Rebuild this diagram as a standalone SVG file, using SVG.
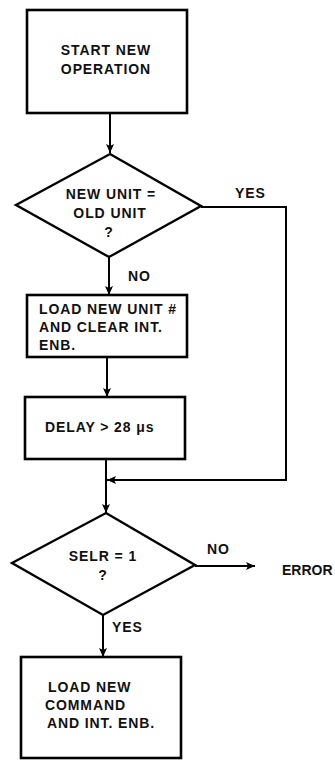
<svg xmlns="http://www.w3.org/2000/svg" width="335" height="760" viewBox="0 0 335 760">
<style>
.box{fill:#fff;stroke:#000;stroke-width:2.6}
.dia{fill:#fff;stroke:#000;stroke-width:2.4;stroke-linejoin:miter}
.ln{fill:none;stroke:#000;stroke-width:2}
text{font-family:"Liberation Sans",Arial,sans-serif;font-weight:bold;font-size:14px;letter-spacing:0.9px;fill:#111}
.c{text-anchor:middle}
</style>
<defs>
<marker id="ah" markerUnits="userSpaceOnUse" markerWidth="12" markerHeight="12" viewBox="-1 -6 11 12" refX="9" refY="0" orient="auto">
<path d="M0,-4 L9,0 L0,4 L2,0 z" fill="#000"/>
</marker>
</defs>
<rect width="335" height="760" fill="#fff"/>
<g id="connectors">
<path class="ln" d="M110,113 V153" marker-end="url(#ah)"/>
<path class="ln" d="M109,257 V295" marker-end="url(#ah)"/>
<path class="ln" d="M201,207 H286 V480 H107" marker-end="url(#ah)"/>
<path class="ln" d="M107,357 V397" marker-end="url(#ah)"/>
<path class="ln" d="M106,459 V513" marker-end="url(#ah)"/>
<path class="ln" d="M195,566 H255" marker-end="url(#ah)"/>
<path class="ln" d="M103,615 V657" marker-end="url(#ah)"/>
<text x="235" y="198">YES</text>
<text x="128" y="281">NO</text>
<text x="207" y="554">NO</text>
<text x="112" y="632">YES</text>
<text x="282" y="575" style="letter-spacing:0px">ERROR</text>
</g>
<g id="start">
<rect class="box" x="27" y="10" width="160" height="103"/>
<text class="c" x="106" y="55">START NEW</text>
<text class="c" x="106" y="74">OPERATION</text>
</g>
<g id="decision1">
<polygon class="dia" points="110,154 201,206 109,257 16,205"/>
<text class="c" x="111" y="199">NEW UNIT =</text>
<text class="c" x="110" y="218">OLD UNIT</text>
<text class="c" x="109" y="237">?</text>
</g>
<g id="load-unit">
<rect class="box" x="27" y="295" width="160" height="62"/>
<text x="39" y="314">LOAD NEW UNIT #</text>
<text x="39" y="332">AND CLEAR INT.</text>
<text x="39" y="350">ENB.</text>
</g>
<g id="delay">
<rect class="box" x="25" y="397" width="160" height="62"/>
<text x="45" y="432">DELAY &gt; 28 μs</text>
</g>
<g id="decision2">
<polygon class="dia" points="106,513 195,565 103,615 12,563"/>
<text class="c" x="103" y="561">SELR = 1</text>
<text class="c" x="103" y="580">?</text>
</g>
<g id="load-command">
<rect class="box" x="21" y="657" width="160" height="101"/>
<text x="48" y="692">LOAD NEW</text>
<text x="45" y="710">COMMAND</text>
<text x="47" y="728">AND INT. ENB.</text>
</g>
</svg>
